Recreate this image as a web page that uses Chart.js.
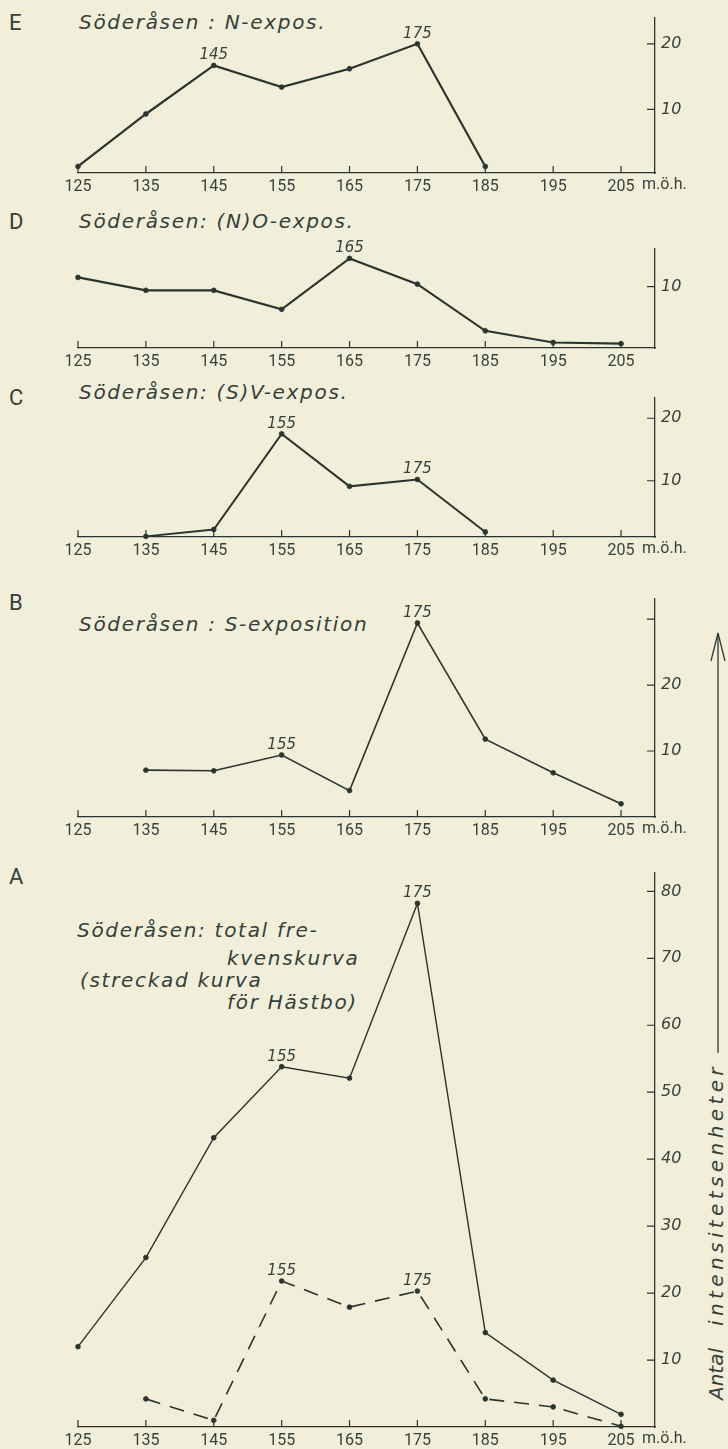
<!DOCTYPE html>
<html>
<head>
<meta charset="utf-8">
<script src="https://cdn.jsdelivr.net/npm/chart.js@4.4.1/dist/chart.umd.min.js"></script>
<style>
  html, body { margin: 0; padding: 0; background: #f1efda; }
  body { width: 728px; height: 1449px; position: relative; overflow: hidden;
         font-family: Roboto, "DejaVu Sans", sans-serif; color: #34403a; }
  canvas { position: absolute; left: 0; }
  .letter { position: absolute; font-size: 22px; font-weight: 400; line-height: 22px; }
  .title { position: absolute; font-family: "DejaVu Sans", sans-serif; font-style: italic;
           font-size: 20px; line-height: 22px; white-space: nowrap; letter-spacing: 1.7px; }
  .vtext { position: absolute; font-family: "DejaVu Sans", sans-serif; font-style: italic;
           font-size: 20px; line-height: 22px; white-space: nowrap;
           transform: rotate(-90deg); transform-origin: 0 0; }
  .vtext .w2 { letter-spacing: 4.4px; margin-left: 22px; }
  svg { position: absolute; left: 0; top: 0; }
</style>
</head>
<body>

<div class="letter" style="left:9px;top:12px">E</div>
<div class="title" style="left:79px;top:11px">Söderåsen : N-expos.</div>

<div class="letter" style="left:9px;top:211px">D</div>
<div class="title" style="left:79px;top:210px">Söderåsen: (N)O-expos.</div>

<div class="letter" style="left:9px;top:387px">C</div>
<div class="title" style="left:79px;top:381px">Söderåsen: (S)V-expos.</div>

<div class="letter" style="left:9px;top:592px">B</div>
<div class="title" style="left:79px;top:613px">Söderåsen : S-exposition</div>

<div class="letter" style="left:9px;top:866px">A</div>
<div class="title" style="left:77px;top:919px">Söderåsen: total fre-</div>
<div class="title" style="left:227px;top:947px">kvenskurva</div>
<div class="title" style="left:80px;top:969px">(streckad kurva</div>
<div class="title" style="left:227px;top:991px">för Hästbo)</div>

<div class="vtext" style="left:705px;top:1400px"><span>Antal</span><span class="w2">intensitetsenheter</span></div>

<svg width="728" height="1449">
  <g stroke="#2f3a35" stroke-width="1.3" fill="none">
    <line x1="718" y1="633" x2="718" y2="1053"/>
    <polyline points="711,661 718,633 725,661"/>
  </g>
</svg>

<script>
// Elevation classes (m ö.h.) shared by every panel
const elevations = [125, 135, 145, 155, 165, 175, 185, 195, 205];

// Frequency values per elevation class (null = no observation)
const nExpos   = [1.3, 9.3, 16.7, 13.4, 16.2, 20.0, 1.3, null, null];
const noExpos  = [11.5, 9.4, 9.4, 6.3, 14.6, 10.4, 2.8, 0.9, 0.7];
const svExpos  = [null, 1.1, 2.2, 17.5, 9.1, 10.2, 1.8, null, null];
const sExpos   = [null, 7.1, 7.0, 9.4, 4.0, 29.4, 11.8, 6.7, 2.0];
const totalSoderasen = [12, 25.3, 43.2, 53.8, 52.1, 78.2, 14.1, 7.0, 1.9];
const hastbo   = [null, 4.2, 1.0, 21.8, 17.9, 20.3, 4.2, 3.0, 0.1];

// Peak elevations written above the curves
const nPeaks = [145, 175];
const noPeaks = [165];
const svPeaks = [155, 175];
const sPeaks = [155, 175];
const totalPeaks = [155, 175];
const hastboPeaks = [155, 175];

// Right-hand axis ticks and their labels
const eTicks = [10, 20];             const eTickLabels = ['10', '20'];
const dTicks = [10];                 const dTickLabels = ['10'];
const cTicks = [10, 20];             const cTickLabels = ['10', '20'];
const bTicks = [10, 20, 30];         const bTickLabels = ['10', '20', ''];
const aTicks = [10, 20, 30, 40, 50, 60, 70, 80];
const aTickLabels = ['10', '20', '30', '40', '50', '60', '70', '80'];

const unitLabel = 'm.ö.h.';

const INK = '#2b3530';
const TXT = '#36423c';
const FONT = 'Roboto, "DejaVu Sans", sans-serif';
const IFONT = '"DejaVu Sans", sans-serif';

function points(values) {
  return elevations.map((x, i) => ({ x, y: values[i] })).filter(p => p.y !== null);
}

// Inward tick marks, peak labels and the unit label
const decor = {
  id: 'decor',
  afterDraw(chart, args, opts) {
    const { ctx, chartArea } = chart;
    const xs = chart.scales.x, ys = chart.scales.y;
    ctx.save();
    ctx.strokeStyle = INK;
    ctx.lineWidth = 1.2;
    ctx.beginPath();
    elevations.forEach(v => {
      const px = xs.getPixelForValue(v);
      ctx.moveTo(px, chartArea.bottom);
      ctx.lineTo(px, chartArea.bottom - 7);
    });
    opts.yTicks.forEach(v => {
      const py = ys.getPixelForValue(v);
      ctx.moveTo(chartArea.right - 8, py);
      ctx.lineTo(chartArea.right, py);
    });
    ctx.stroke();

    ctx.fillStyle = TXT;
    ctx.font = 'italic 15px ' + IFONT;
    ctx.textAlign = 'center';
    ctx.textBaseline = 'alphabetic';
    chart.data.datasets.forEach((ds, di) => {
      const meta = chart.getDatasetMeta(di);
      (ds.peaks || []).forEach(pk => {
        const idx = ds.data.findIndex(p => p.x === pk);
        if (idx < 0) return;
        const el = meta.data[idx];
        ctx.fillText(String(pk), el.x, el.y - opts.peakGap);
      });
    });

    if (opts.unit) {
      ctx.font = '16px ' + FONT;
      ctx.textAlign = 'left';
      ctx.textBaseline = 'middle';
      ctx.fillText(unitLabel, xs.getPixelForValue(205) + 21, chartArea.bottom + 12);
    }
    ctx.restore();
  }
};

function panel(cfg) {
  const canvas = document.createElement('canvas');
  const padTop = 10;
  const h = (cfg.base - cfg.top) + padTop + 30;
  canvas.width = 728;
  canvas.height = h;
  canvas.style.top = (cfg.top - padTop) + 'px';
  document.body.appendChild(canvas);

  new Chart(canvas, {
    type: 'line',
    data: {
      datasets: cfg.series.map(s => ({
        data: points(s.values),
        peaks: s.peaks,
        borderColor: INK,
        borderWidth: s.width,
        borderDash: s.dash || [],
        pointRadius: 2.4,
        pointBackgroundColor: INK,
        pointBorderColor: INK,
        pointBorderWidth: 0.8,
        tension: 0,
        clip: false
      }))
    },
    options: {
      responsive: false,
      animation: false,
      events: [],
      layout: { padding: { left: 78, right: 0, top: padTop, bottom: 0 } },
      plugins: {
        legend: { display: false },
        tooltip: { enabled: false },
        decor: { yTicks: cfg.yTicks, unit: cfg.unit, peakGap: cfg.peakGap || 6 }
      },
      scales: {
        x: {
          type: 'linear', min: 125, max: 210,
          grid: { display: false, drawTicks: false },
          border: { display: true, color: INK, width: 1.3 },
          afterBuildTicks: s => { s.ticks = elevations.map(v => ({ value: v })); },
          afterFit: s => { s.height = 30; },
          ticks: { autoSkip: false, maxRotation: 0, padding: 4, color: TXT,
                   font: { family: FONT, size: 16, weight: '400' },
                   callback: v => String(v) }
        },
        y: {
          type: 'linear', position: 'right', min: cfg.min, max: cfg.max,
          grid: { display: false, drawTicks: false },
          border: { display: true, color: INK, width: 1.3 },
          afterBuildTicks: s => { s.ticks = cfg.yTicks.map(v => ({ value: v })); },
          afterFit: s => { s.width = 73; },
          ticks: { padding: 6, color: TXT,
                   font: { family: IFONT, size: 16, style: 'italic' },
                   callback: (v, i) => cfg.yLabels[i] }
        }
      }
    },
    plugins: [decor]
  });
}

panel({ top: 12, base: 173, min: 0.3, max: 24, yTicks: eTicks, yLabels: eTickLabels, unit: true,
        series: [{ values: nExpos, width: 2.2, peaks: nPeaks }] });
panel({ top: 243, base: 348, min: 0, max: 16.2, yTicks: dTicks, yLabels: dTickLabels, unit: false,
        series: [{ values: noExpos, width: 2.2, peaks: noPeaks }] });
panel({ top: 392, base: 537, min: 1, max: 23.3, yTicks: cTicks, yLabels: cTickLabels, unit: true,
        series: [{ values: svExpos, width: 2.0, peaks: svPeaks }] });
panel({ top: 593, base: 817, min: 0, max: 33.1, yTicks: bTicks, yLabels: bTickLabels, unit: true,
        series: [{ values: sExpos, width: 1.6, peaks: sPeaks }] });
panel({ top: 867, base: 1427, min: 0, max: 82.8, yTicks: aTicks, yLabels: aTickLabels, unit: true,
        series: [{ values: totalSoderasen, width: 1.4, peaks: totalPeaks },
                 { values: hastbo, width: 1.6, dash: [15, 10], peaks: hastboPeaks }] });
</script>
</body>
</html>
